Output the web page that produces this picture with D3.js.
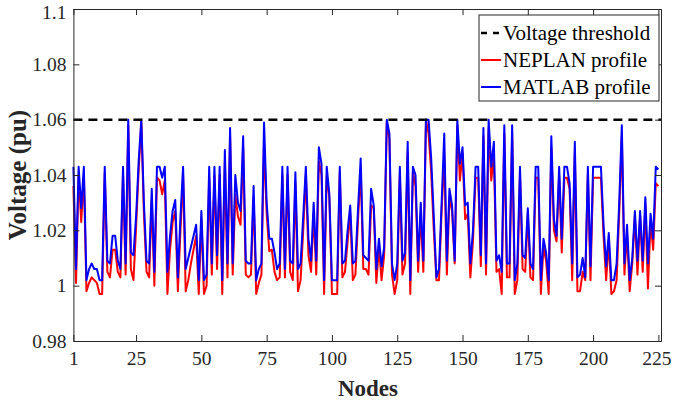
<!DOCTYPE html>
<html>
<head>
<meta charset="utf-8">
<script src="https://cdn.jsdelivr.net/npm/d3@7"></script>
<style>
  body { margin: 0; background: #fff; }
  text { font-family: "Liberation Serif", "Times New Roman", serif; }
</style>
</head>
<body>
<div id="container"></div>
<script>
let w = 673;
let h = 406;

// voltage per node (node 1 .. 225)
const neplan = [
  1.036, 1.001, 1.040, 1.023, 1.040, 0.998, 1.001, 1.003, 1.002, 1.001,
  0.997, 0.997, 1.041, 1.005, 1.003, 1.013, 1.013, 1.005, 1.003, 1.040,
  1.004, 1.058, 1.006, 1.002, 1.021, 1.042, 1.059, 1.026, 1.005, 1.003,
  1.031, 1.000, 1.039, 1.038, 1.033, 1.038, 0.997, 1.013, 1.023, 1.027,
  0.998, 1.020, 1.040, 0.998, 1.002, 1.008, 1.013, 1.018, 0.997, 1.024,
  0.997, 1.000, 1.039, 1.004, 1.040, 1.006, 1.040, 0.997, 1.045, 1.003,
  1.054, 1.004, 1.033, 1.025, 1.022, 1.050, 1.004, 1.003, 1.004, 1.032,
  0.997, 1.001, 1.004, 1.052, 1.026, 1.0125, 1.013, 1.005, 1.002, 1.003,
  1.040, 1.003, 1.040, 1.005, 1.002, 1.037, 0.998, 1.002, 1.020, 1.040,
  1.011, 1.005, 1.026, 1.004, 1.045, 1.040, 0.997, 1.040, 1.032, 0.997,
  0.997, 0.997, 1.041, 1.003, 1.005, 1.016, 1.026, 1.002, 1.004, 1.024,
  1.042, 1.006, 1.006, 1.004, 1.029, 1.028, 1.001, 1.014, 1.002, 1.011,
  1.059, 1.053, 1.004, 0.997, 1.002, 1.040, 1.004, 1.008, 1.048, 0.997,
  1.041, 1.036, 1.005, 1.026, 1.005, 1.060, 1.055, 1.041, 1.020, 1.002,
  1.002, 1.027, 1.047, 1.004, 1.032, 1.027, 1.008, 1.058, 1.038, 1.048,
  1.024, 1.026, 1.003, 1.016, 1.039, 1.039, 1.007, 1.054, 1.004, 1.057,
  1.038, 1.047, 1.005, 1.006, 0.997, 1.055, 1.003, 1.003, 1.055, 0.997,
  1.002, 1.040, 1.006, 1.005, 1.026, 1.003, 1.002, 1.039, 1.039, 0.997,
  1.014, 1.009, 0.997, 1.050, 1.020, 1.016, 1.040, 1.012, 1.039, 1.039,
  1.035, 1.002, 1.048, 0.998, 0.998, 1.005, 1.002, 1.040, 1.002, 1.039,
  1.039, 1.039, 1.039, 1.018, 1.002, 1.016, 0.997, 0.998, 1.002, 1.026,
  1.054, 1.004, 1.019, 0.998, 1.008, 1.025, 1.004, 1.025, 1.005, 1.029,
  0.999, 1.023, 1.013, 1.037, 1.036
];

const matlab = [
  1.043, 1.006, 1.043, 1.028, 1.043, 1.002, 1.006, 1.008, 1.006, 1.006,
  1.002, 1.002, 1.043, 1.009, 1.008, 1.018, 1.018, 1.009, 1.006, 1.043,
  1.008, 1.060, 1.012, 1.011, 1.025, 1.045, 1.060, 1.030, 1.009, 1.008,
  1.035, 1.005, 1.043, 1.043, 1.039, 1.043, 1.005, 1.018, 1.027, 1.031,
  1.003, 1.025, 1.043, 1.006, 1.010, 1.014, 1.018, 1.022, 1.002, 1.027,
  1.002, 1.004, 1.043, 1.008, 1.043, 1.011, 1.043, 1.002, 1.049, 1.008,
  1.057, 1.008, 1.040, 1.030, 1.027, 1.054, 1.009, 1.008, 1.008, 1.036,
  1.002, 1.006, 1.008, 1.059, 1.030, 1.017, 1.017, 1.012, 1.006, 1.008,
  1.043, 1.006, 1.043, 1.009, 1.008, 1.041, 1.006, 1.008, 1.025, 1.043,
  1.017, 1.009, 1.030, 1.009, 1.050, 1.044, 1.002, 1.043, 1.033, 1.002,
  1.002, 1.002, 1.043, 1.008, 1.009, 1.020, 1.029, 1.008, 1.009, 1.028,
  1.046, 1.011, 1.010, 1.009, 1.035, 1.029, 1.006, 1.017, 1.007, 1.014,
  1.060, 1.055, 1.008, 1.002, 1.008, 1.043, 1.009, 1.012, 1.052, 1.002,
  1.043, 1.040, 1.009, 1.030, 1.009, 1.060, 1.060, 1.046, 1.025, 1.003,
  1.006, 1.030, 1.055, 1.009, 1.035, 1.029, 1.009, 1.060, 1.044, 1.050,
  1.029, 1.030, 1.008, 1.020, 1.043, 1.043, 1.011, 1.057, 1.008, 1.060,
  1.043, 1.052, 1.009, 1.011, 1.005, 1.058, 1.008, 1.008, 1.058, 1.002,
  1.008, 1.043, 1.011, 1.010, 1.028, 1.008, 1.006, 1.043, 1.043, 1.002,
  1.017, 1.012, 1.002, 1.054, 1.024, 1.018, 1.043, 1.017, 1.043, 1.043,
  1.037, 1.008, 1.052, 1.003, 1.004, 1.010, 1.003, 1.043, 1.007, 1.043,
  1.043, 1.043, 1.043, 1.022, 1.007, 1.019, 1.002, 1.002, 1.008, 1.030,
  1.058, 1.008, 1.022, 1.002, 1.010, 1.027, 1.009, 1.027, 1.009, 1.032,
  1.008, 1.026, 1.017, 1.043, 1.042
];

const threshold = 1.06;
const xTicks = [1, 25, 50, 75, 100, 125, 150, 175, 200, 225];
const yTicks = [0.98, 1, 1.02, 1.04, 1.06, 1.08, 1.1];
const yTickLabels = ["0.98", "1", "1.02", "1.04", "1.06", "1.08", "1.1"];
const legendNames = ["Voltage threshold", "NEPLAN profile", "MATLAB profile"];
const legendColors = ["#000000", "#ff0000", "#0000ff"];

let plotLeft = 73.4, plotRight = 661, plotTop = 9, plotBottom = 341;
let axisColor = "#262626";

let viz = d3.select("#container")
  .append("svg")
  .attr("width", w)
  .attr("height", h)
  .style("display", "block");

// axis runs a little past the last node, like the original
let x = d3.scaleLinear().domain([1, 226]).range([plotLeft, plotRight]);
let y = d3.scaleLinear().domain([0.98, 1.1]).range([plotBottom, plotTop]);

let line = d3.line()
  .x((d, i) => x(i + 1))
  .y(d => y(d));

// red first, blue drawn on top
viz.append("path")
  .datum(neplan)
  .attr("d", line)
  .attr("fill", "none")
  .attr("stroke", "#ff0000")
  .attr("stroke-width", 2)
  .attr("stroke-linejoin", "round");

viz.append("path")
  .datum(matlab)
  .attr("d", line)
  .attr("fill", "none")
  .attr("stroke", "#0000ff")
  .attr("stroke-width", 2)
  .attr("stroke-linejoin", "round");

viz.append("line")
  .attr("x1", x(1)).attr("x2", x(226))
  .attr("y1", y(threshold)).attr("y2", y(threshold))
  .attr("stroke", "#000")
  .attr("stroke-width", 2.5)
  .attr("stroke-dasharray", "9,6");

// axes (box with inner ticks on all four sides)
let tickFont = 19.5;

let xAxis = viz.append("g")
  .attr("transform", `translate(0,${plotBottom})`)
  .call(d3.axisBottom(x).tickValues(xTicks).tickSizeInner(-6).tickSizeOuter(0).tickPadding(10));
let xTopAxis = viz.append("g")
  .attr("transform", `translate(0,${plotTop})`)
  .call(d3.axisTop(x).tickValues(xTicks).tickSizeInner(-6).tickSizeOuter(0).tickFormat(""));
let yAxis = viz.append("g")
  .attr("transform", `translate(${plotLeft},0)`)
  .call(d3.axisLeft(y).tickValues(yTicks).tickSizeInner(-6).tickSizeOuter(0).tickPadding(7)
    .tickFormat((d, i) => yTickLabels[i]));
let yRightAxis = viz.append("g")
  .attr("transform", `translate(${plotRight},0)`)
  .call(d3.axisRight(y).tickValues(yTicks).tickSizeInner(-6).tickSizeOuter(0).tickFormat(""));

[xAxis, xTopAxis, yAxis, yRightAxis].forEach(g => {
  g.select(".domain").attr("stroke", axisColor).attr("stroke-width", 1);
  g.selectAll(".tick line").attr("stroke", axisColor);
  g.selectAll("text")
    .attr("fill", axisColor)
    .style("font-family", '"Liberation Serif", serif')
    .style("font-size", tickFont + "px");
});

// keep the top label inside the picture
yAxis.selectAll(".tick text").filter(d => d == 1.1).attr("dy", "0.5em");
// last x label pulled in a touch so it stays on the page
xAxis.selectAll(".tick text").filter(d => d == 225).attr("dx", "-0.1em");

// axis titles
viz.append("text")
  .attr("x", 368)
  .attr("y", 396)
  .attr("text-anchor", "middle")
  .attr("font-weight", "bold")
  .attr("font-size", 23)
  .attr("fill", axisColor)
  .text("Nodes");

viz.append("text")
  .attr("transform", "translate(26,175) rotate(-90)")
  .attr("text-anchor", "middle")
  .attr("font-weight", "bold")
  .attr("font-size", 25)
  .attr("fill", axisColor)
  .text("Voltage (pu)");

// legend
let legend = viz.append("g");
legend.append("rect")
  .attr("x", 479).attr("y", 15)
  .attr("width", 180).attr("height", 86)
  .attr("fill", "#fff")
  .attr("stroke", axisColor)
  .attr("stroke-width", 1);

let rows = legend.selectAll(".row").data(legendNames).enter()
  .append("g")
  .attr("class", "row")
  .attr("transform", (d, i) => `translate(0,${33 + i * 27})`);

rows.append("line")
  .attr("x1", 481).attr("x2", 501)
  .attr("y1", 0).attr("y2", 0)
  .attr("stroke", (d, i) => legendColors[i])
  .attr("stroke-width", (d, i) => i == 0 ? 2.5 : 2)
  .attr("stroke-dasharray", (d, i) => i == 0 ? "6,6" : null);

rows.append("text")
  .attr("x", 503)
  .attr("y", 0)
  .attr("dy", "0.35em")
  .attr("font-size", 21)
  .attr("fill", "#000")
  .text(d => d);
</script>
</body>
</html>
